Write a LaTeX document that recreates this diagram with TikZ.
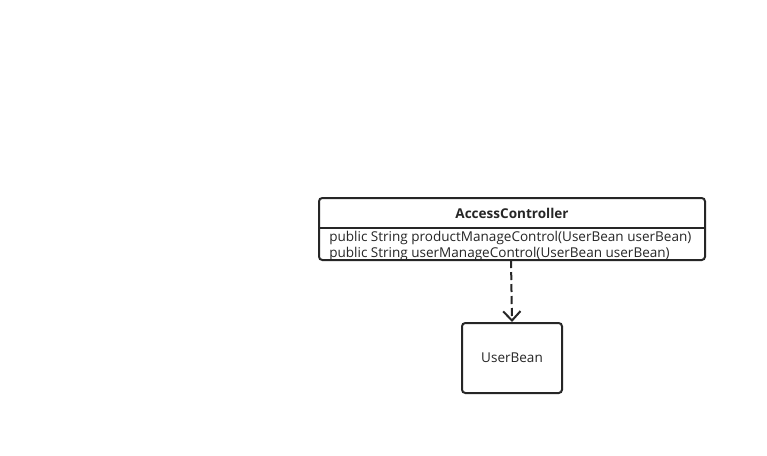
\documentclass[tikz,border=0pt]{standalone}
\usepackage{fontspec}
\setmainfont{Open Sans}
\usetikzlibrary{arrows.meta}
\begin{document}
\begin{tikzpicture}[x=0.75pt,y=-0.75pt,
  box/.style={draw=black!85, line width=1.5pt, rounded corners=2.5pt},
  txt/.style={font=\fontsize{10.15}{12}\selectfont, text=black!85, inner sep=0pt},
  dep/.style={draw=black!85, line width=1.5pt, dash pattern=on 6pt off 3pt, -{Straight Barb[length=7pt,width=13pt,line width=1.5pt]}}]
\useasboundingbox[fill=white] (0,0) rectangle (767,455);
\draw[box] (319,198) rectangle (705,260);
\coordinate (clsbot) at (511,260);
\draw[draw=black!85, line width=1.5pt] (319,228) -- (705,228);
\node[txt, font=\fontsize{10.15}{12}\selectfont\bfseries] (title) at (512,213.5) {AccessController};
\node[txt, anchor=west] (m1) at (329,238) {public String productManageControl(UserBean userBean)};
\node[txt, anchor=west] (m2) at (329,253.5) {public String userManageControl(UserBean userBean)};
\node[box, minimum width=100*0.75pt, minimum height=70*0.75pt, txt, draw=black!85] (ub) at (512,358) {UserBean};
\draw[dep] (clsbot) -- (ub.north);
\end{tikzpicture}
\end{document}
